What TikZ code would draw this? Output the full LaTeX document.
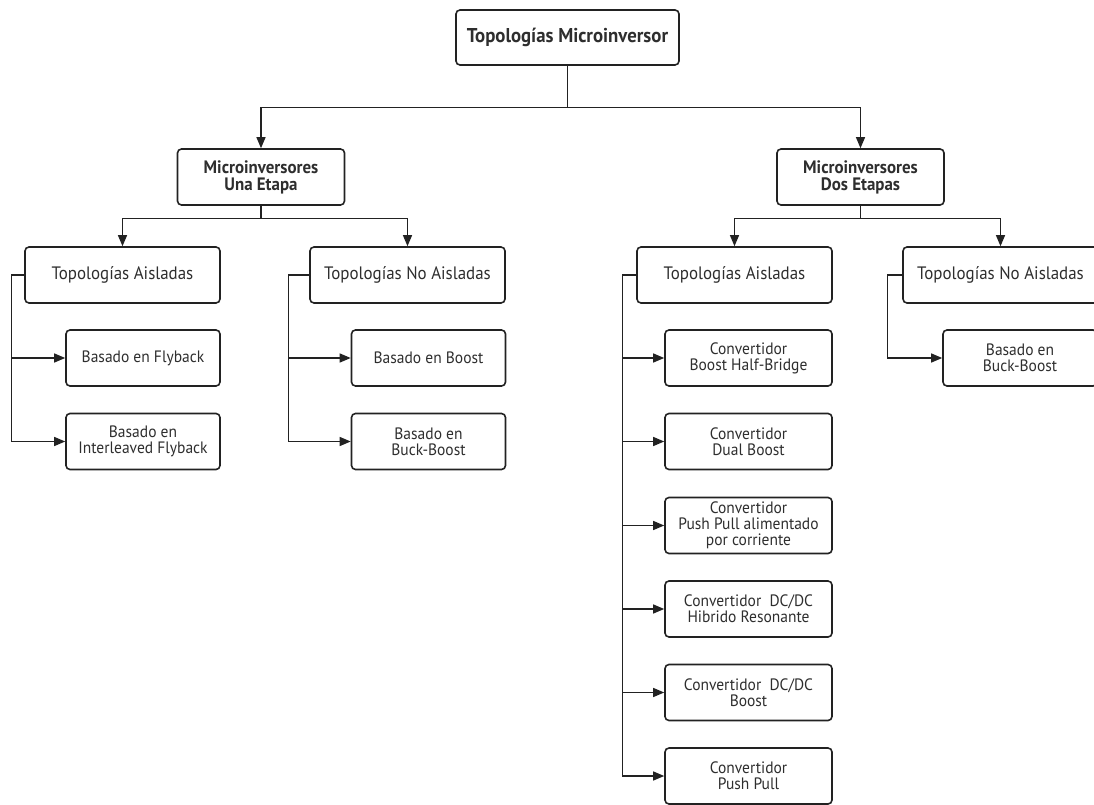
\documentclass[tikz,border=0pt]{standalone}
\usepackage{fontspec}
\setmainfont{PT Sans}[FakeStretch=0.94]
\usetikzlibrary{arrows.meta}
\definecolor{ink}{HTML}{222222}
\definecolor{txt}{HTML}{2E2E2E}
\begin{document}
\begin{tikzpicture}[x=1pt,y=-1pt,
  box/.style={draw=ink,line width=1.6pt,rounded corners=4pt,inner sep=0pt,
    align=center,text=txt},
  rootbox/.style={box,minimum width=223pt,minimum height=55pt,
    font=\fontsize{20}{22}\selectfont\bfseries},
  stagebox/.style={box,minimum width=167pt,minimum height=56pt,
    font=\fontsize{18}{17}\selectfont\bfseries},
  groupbox/.style={box,minimum width=195pt,minimum height=56pt,
    font=\fontsize{18}{20}\selectfont},
  leafbox/.style={box,minimum width=154pt,minimum height=56pt,
    font=\fontsize{16.5}{16}\selectfont},
  wideleaf/.style={leafbox,minimum width=167pt},
  link/.style={draw=ink,line width=1.2pt},
  arr/.style={link,-{Triangle[length=11pt,width=9pt]}}]
\useasboundingbox (0,0) rectangle (1094,805);
\clip (0,0) rectangle (1094,805);

% root and the two stages
\node[rootbox] (root) at (567.5,37.5) {Topologías Microinversor};
\node[stagebox] (una) at (261,177) {Microinversores\\Una Etapa};
\node[stagebox] (dos) at (860.5,177) {Microinversores\\Dos Etapas};

% group boxes
\node[groupbox] (ua) at (122.5,275) {Topologías Aisladas};
\node[groupbox] (un) at (407.5,275) {Topologías No Aisladas};
\node[groupbox] (da) at (734.5,275) {Topologías Aisladas};
\node[groupbox] (dn) at (1000.5,275) {Topologías No Aisladas};

% one-stage leaves
\node[leafbox] (ua1) at (143,358) {Basado en Flyback};
\node[leafbox] (ua2) at (143,441.5) {Basado en\\Interleaved Flyback};
\node[leafbox] (un1) at (428.5,358) {Basado en Boost};
\node[leafbox] (un2) at (428.5,441.5) {Basado en\\Buck-Boost};

% two-stage leaves
\node[wideleaf] (da1) at (748.5,358) {Convertidor\\Boost Half-Bridge};
\node[wideleaf] (da2) at (748.5,441.5) {Convertidor\\Dual Boost};
\node[wideleaf] (da3) at (748.5,525.5) {Convertidor\\Push Pull alimentado\\por corriente};
\node[wideleaf] (da4) at (748.5,609) {Convertidor\enspace DC/DC\\Hibrido Resonante};
\node[wideleaf] (da5) at (748.5,692.5) {Convertidor\enspace DC/DC\\Boost};
\node[wideleaf] (da6) at (748.5,776) {Convertidor\\Push Pull};
\node[leafbox] (dn1) at (1020,358) {Basado en\\Buck-Boost};

% root to stages
\draw[arr] (root.south) -- ++(0,42) -| (una.north);
\draw[arr] (root.south) -- ++(0,42) -| (dos.north);

% stages to groups
\draw[arr] (una.south) -- ++(0,13) -| (ua.north);
\draw[arr] (una.south) -- ++(0,13) -| (un.north);
\draw[arr] (dos.south) -- ++(0,13) -| (da.north);
\draw[arr] (dos.south) -- ++(0,13) -| (dn.north);

% groups to leaves
\foreach \leaf in {ua1,ua2}
  \draw[arr] (ua.west) -- ++(-13,0) |- (\leaf.west);
\foreach \leaf in {un1,un2}
  \draw[arr] (un.west) -- ++(-21,0) |- (\leaf.west);
\foreach \leaf in {da1,da2,da3,da4,da5,da6}
  \draw[arr] (da.west) -- ++(-14,0) |- (\leaf.west);
\draw[arr] (dn.west) -- ++(-15,0) |- (dn1.west);
\end{tikzpicture}
\end{document}
